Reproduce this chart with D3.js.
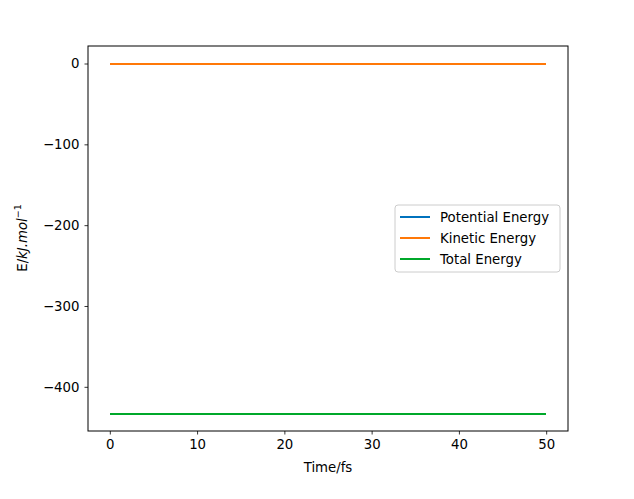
<!DOCTYPE html>
<html><head><meta charset="utf-8">
<script src="https://cdn.jsdelivr.net/npm/d3@7"></script>
<style>body{margin:0;background:#fff}text{font-family:"DejaVu Sans",sans-serif}</style>
</head><body>
<svg id="c" width="634" height="499"></svg>
<script>
const times = [0, 10, 20, 30, 40, 50];
const potential = [-433, -433, -433, -433, -433, -433];
const kinetic = [0, 0, 0, 0, 0, 0];
const total = [-433, -433, -433, -433, -433, -433];
const seriesNames = ["Potential Energy", "Kinetic Energy", "Total Energy"];
const colors = ["#0072bd", "#ff7808", "#00a82a"];
const xTicks = [0, 10, 20, 30, 40, 50];
const yTicks = [0, -100, -200, -300, -400];

const svg = d3.select("#c");
const L = 88, R = 568, T = 46, B = 431;
const x = d3.scaleLinear().domain([-2.5, 52.5]).range([L, R]);
const y = d3.scaleLinear().domain([-454.65, 21.65]).range([B, T]);
const fmt = d => (d < 0 ? "\u2212" + Math.abs(d) : String(d));

const xa = svg.append("g").attr("transform", `translate(0,${B})`)
  .call(d3.axisBottom(x).tickValues(xTicks).tickSize(3.5).tickPadding(5).tickFormat(fmt));
const ya = svg.append("g").attr("transform", `translate(${L},0)`)
  .call(d3.axisLeft(y).tickValues(yTicks).tickSize(3.5).tickPadding(5).tickFormat(fmt));
[xa, ya].forEach(a => {
  a.select(".domain").remove();
  a.selectAll("line").attr("stroke", "#000").attr("stroke-width", 0.8);
  a.selectAll("text").attr("font-size", 13.3).attr("fill", "#000").style("font-family", "DejaVu Sans");
});

const data = [potential, kinetic, total];
const line = d3.line().x((d, i) => x(times[i])).y(d => y(d));
data.forEach((s, k) => {
  svg.append("path").datum(s).attr("d", line).attr("fill", "none")
    .attr("stroke", colors[k]).attr("stroke-width", 2).attr("shape-rendering", "crispEdges");
});

svg.append("rect").attr("x", L).attr("y", T).attr("width", R - L).attr("height", B - T)
  .attr("fill", "none").attr("stroke", "#000").attr("stroke-width", 1);

svg.append("text").attr("x", (L + R) / 2).attr("y", 472).attr("text-anchor", "middle")
  .attr("font-size", 13.3).text("Time/fs");

const yl = svg.append("text").attr("transform", "translate(27,238) rotate(-90)")
  .attr("text-anchor", "middle").attr("font-size", 13.3);
yl.append("tspan").text("E/");
yl.append("tspan").attr("font-style", "italic").text("kJ.mol");
yl.append("tspan").attr("font-size", 9.5).attr("dy", -6).text("\u22121");

const lg = svg.append("g");
lg.append("rect").attr("x", 395).attr("y", 205).attr("width", 165).attr("height", 67)
  .attr("rx", 3).attr("fill", "#fff").attr("fill-opacity", 0.8).attr("stroke", "#ccc").attr("stroke-width", 1);
seriesNames.forEach((n, k) => {
  const yy = 217 + k * 21;
  lg.append("line").attr("x1", 400).attr("x2", 430).attr("y1", yy).attr("y2", yy)
    .attr("stroke", colors[k]).attr("stroke-width", 2);
  lg.append("text").attr("x", 440).attr("y", yy + 5).attr("font-size", 13.3).text(n);
});
</script>
</body></html>
